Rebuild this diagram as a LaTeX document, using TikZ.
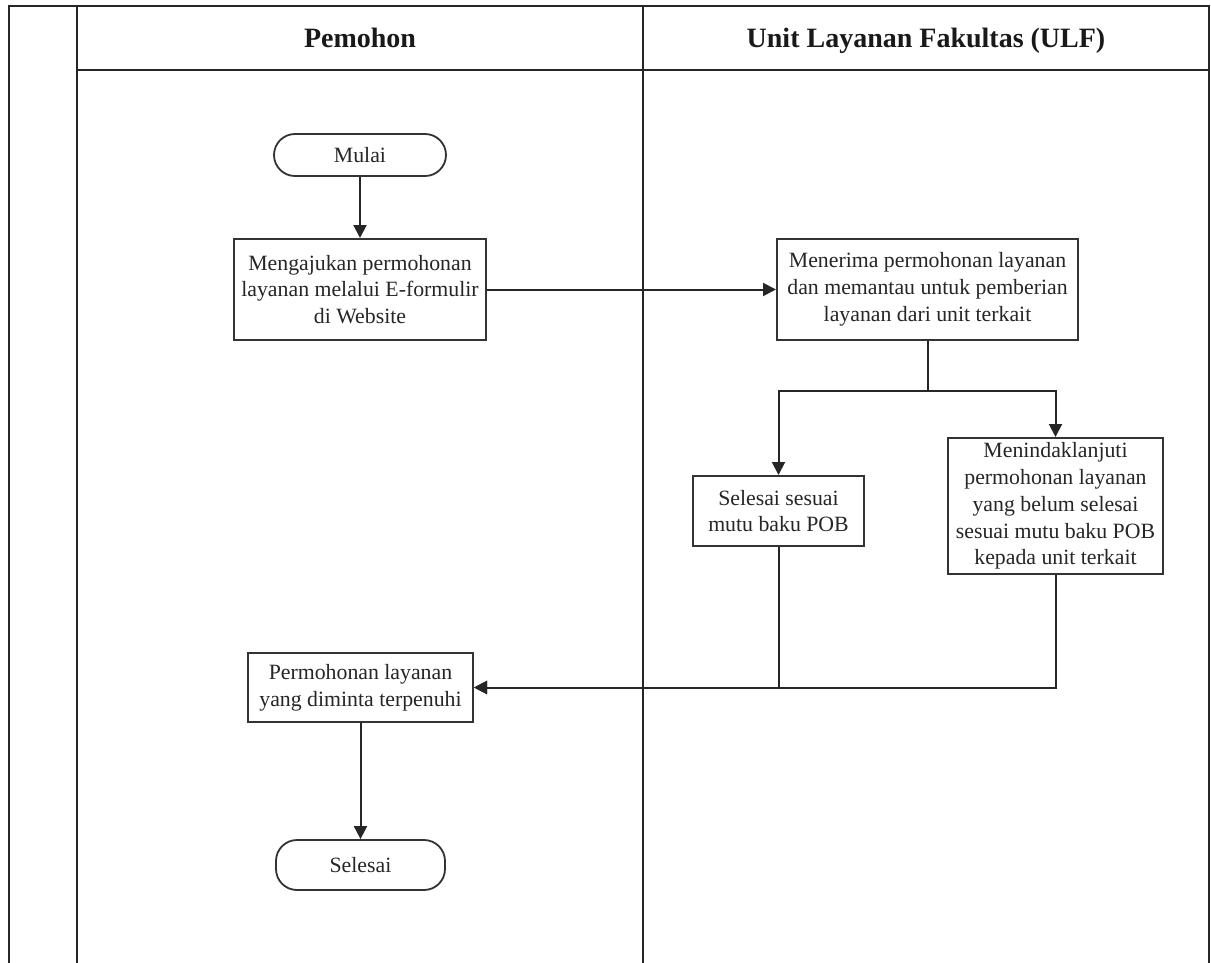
\documentclass[tikz,border=0pt]{standalone}
\usepackage{fontspec}
\setmainfont{Liberation Serif}
\usetikzlibrary{arrows.meta}
\begin{document}
\begin{tikzpicture}[x=0.5pt,y=-0.5pt,
  frame/.style={line width=1pt,draw=black!85},
  procbox/.style={draw=black!80,line width=1pt,rectangle,inner sep=0pt,align=center,
    font=\fontsize{10.9}{13.4}\selectfont,text=black!85},
  termbox/.style={draw=black!80,line width=0.9pt,rectangle,rounded corners=10.5pt,inner sep=0pt,
    align=center,font=\fontsize{10.9}{13.4}\selectfont,text=black!85,minimum width=85pt,minimum height=21pt},
  header/.style={font=\fontsize{14}{16}\selectfont\bfseries,text=black!90,anchor=base},
  flow/.style={draw=black!85,line width=1pt,-{Triangle[length=6.5pt,width=6.5pt]}},
  plain/.style={draw=black!85,line width=1pt}]
\useasboundingbox (0,0) rectangle (1211,963);
\fill[white] (0,0) rectangle (1211,963);
% frame
\draw[frame] (9,963) -- (9,6) -- (1209,6) -- (1209,963);
\draw[frame] (77,6) -- (77,963);
\draw[frame] (643,6) -- (643,963);
\draw[frame] (77,70) -- (1209,70);
\node[header] (h1) at (360,48) {Pemohon};
\node[header] (h2) at (926,48) {Unit Layanan Fakultas (ULF)};
% nodes
\node[termbox,minimum width=86pt] (mulai) at (360,155) {Mulai};
\node[procbox,minimum width=126pt,minimum height=50.5pt] (b1) at (360,289.5)
  {Mengajukan permohonan\\layanan melalui E-formulir\\di Website};
\node[procbox,minimum width=150.5pt,minimum height=50.5pt] (b2) at (927.5,289.5)
  {Menerima permohonan layanan\\dan memantau untuk pemberian\\layanan dari unit terkait};
\node[procbox,minimum width=85.5pt,minimum height=35pt] (b3) at (778.5,511)
  {Selesai sesuai\\mutu baku POB};
\node[procbox,minimum width=107.5pt,minimum height=68pt] (b4) at (1055.5,506)
  {Menindaklanjuti\\permohonan layanan\\yang belum selesai\\sesuai mutu baku POB\\kepada unit terkait};
\node[procbox,minimum width=112.5pt,minimum height=34.5pt] (b5) at (360.5,687.5)
  {Permohonan layanan\\yang diminta terpenuhi};
\node[termbox,minimum width=84.5pt,minimum height=25pt] (selesai) at (360.5,865) {Selesai};
% connectors
\coordinate (split) at (927.5,391);
\draw[flow] (mulai) -- (b1);
\draw[flow] (b1) -- (b2);
\draw[plain] (b2.south) -- (split);
\draw[flow] (split) -| (b3.north);
\draw[flow] (split) -| (b4.north);
\draw[flow] (b4.south) |- (b5.east);
\draw[flow] (b3.south) |- (b5.east);
\draw[flow] (b5) -- (selesai);
\end{tikzpicture}
\end{document}
